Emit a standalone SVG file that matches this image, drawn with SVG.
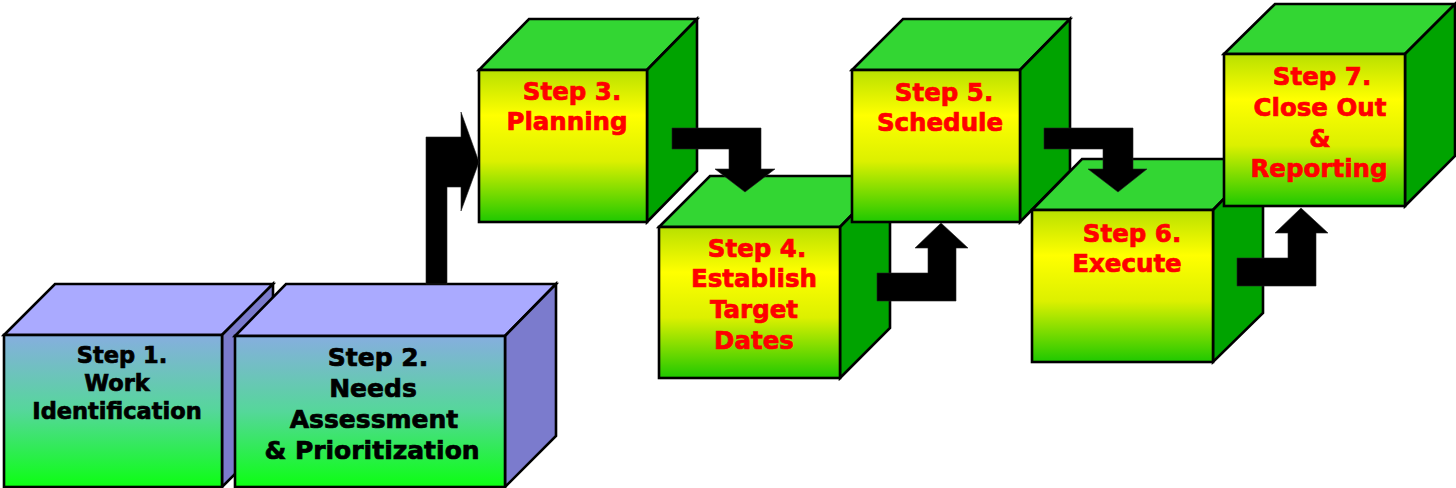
<svg xmlns="http://www.w3.org/2000/svg" width="1456" height="488" viewBox="0 0 1456 488">
  <defs>
    <linearGradient id="frontBlue" x1="0" y1="0" x2="0" y2="1">
      <stop offset="0" stop-color="#86aedf"/>
      <stop offset="0.5" stop-color="#55d79a"/>
      <stop offset="1" stop-color="#0cff12"/>
    </linearGradient>
    <linearGradient id="frontGreen" x1="0" y1="0" x2="0" y2="1">
      <stop offset="0" stop-color="#b8e000"/>
      <stop offset="0.3" stop-color="#ffff00"/>
      <stop offset="0.6" stop-color="#dcf000"/>
      <stop offset="1" stop-color="#1ec800"/>
    </linearGradient>
    <style>
      .edge { stroke: #000; stroke-width: 2.6; stroke-linejoin: miter; }
      .b-front { fill: url(#frontBlue); }
      .b-top { fill: #aaaaff; }
      .b-side { fill: #7b7bcd; }
      .g-front { fill: url(#frontGreen); }
      .g-top { fill: #33d633; }
      .g-side { fill: #00a300; }
      .lbl { font-family: "DejaVu Sans", Verdana, sans-serif; font-weight: bold; text-anchor: middle; stroke-width: 0.7; }
      .dark { fill: #000; stroke: #000; }
      .red { fill: #ff0000; stroke: #ff0000; }
      .arrow { fill: #000; stroke: #222; stroke-width: 0.6; }
    </style>
  </defs>

  <rect width="1456" height="488" fill="#fff"/>

  <!-- Step 1 -->
  <g id="step1">
    <polygon class="edge b-top" points="4,335 55,284 273,284 222,335"/>
    <polygon class="edge b-side" points="222,335 273,284 273,436 222,487"/>
    <rect class="edge b-front" x="4" y="335" width="218" height="152"/>
    <g class="lbl dark" font-size="22.5">
      <text x="122" y="363">Step 1.</text>
      <text x="117" y="391">Work</text>
      <text x="117" y="419">Identification</text>
    </g>
  </g>

  <!-- Step 2 -->
  <g id="step2">
    <polygon class="edge b-top" points="235,336 286,284 556,284 505,336"/>
    <polygon class="edge b-side" points="505,336 556,284 556,436 505,487"/>
    <rect class="edge b-front" x="235" y="336" width="270" height="151"/>
    <g class="lbl dark" font-size="25">
      <text x="378" y="366">Step 2.</text>
      <text x="373" y="397">Needs</text>
      <text x="374" y="428">Assessment</text>
      <text x="372" y="459">&amp; Prioritization</text>
    </g>
  </g>

  <!-- Step 3 -->
  <g id="step3">
    <polygon class="edge g-top" points="479,70 529,19 697,19 647,70"/>
    <polygon class="edge g-side" points="647,70 697,19 697,171 647,222"/>
    <rect class="edge g-front" x="479" y="70" width="168" height="152"/>
    <g class="lbl red" font-size="24.5">
      <text x="572" y="100">Step 3.</text>
      <text x="567" y="130">Planning</text>
    </g>
  </g>

  <!-- Step 4 -->
  <g id="step4">
    <polygon class="edge g-top" points="659,227 710,176 890,176 840,227"/>
    <polygon class="edge g-side" points="840,227 890,176 890,328 840,378"/>
    <rect class="edge g-front" x="659" y="227" width="181" height="151"/>
    <g class="lbl red" font-size="24.5">
      <text x="757" y="257">Step 4.</text>
      <text x="754" y="287">Establish</text>
      <text x="754" y="318">Target</text>
      <text x="754" y="349">Dates</text>
    </g>
  </g>

  <!-- Step 5 -->
  <g id="step5">
    <polygon class="edge g-top" points="852,70 903,19 1070,19 1020,70"/>
    <polygon class="edge g-side" points="1020,70 1070,19 1070,171 1020,222"/>
    <rect class="edge g-front" x="852" y="70" width="168" height="152"/>
    <g class="lbl red" font-size="24.5">
      <text x="944" y="101">Step 5.</text>
      <text x="940" y="131">Schedule</text>
    </g>
  </g>

  <!-- Step 6 -->
  <g id="step6">
    <polygon class="edge g-top" points="1032,210 1082,159 1263,159 1213,210"/>
    <polygon class="edge g-side" points="1213,210 1263,159 1263,313 1213,362"/>
    <rect class="edge g-front" x="1032" y="210" width="181" height="152"/>
    <g class="lbl red" font-size="24.5">
      <text x="1132" y="242">Step 6.</text>
      <text x="1127" y="272">Execute</text>
    </g>
  </g>

  <!-- Step 7 -->
  <g id="step7">
    <polygon class="edge g-top" points="1224,54 1275,4 1455,4 1405,54"/>
    <polygon class="edge g-side" points="1405,54 1455,4 1455,156 1405,206"/>
    <rect class="edge g-front" x="1224" y="54" width="181" height="152"/>
    <g class="lbl red" font-size="24.5">
      <text x="1322" y="85">Step 7.</text>
      <text x="1320" y="116">Close Out</text>
      <text x="1320" y="147">&amp;</text>
      <text x="1319" y="177">Reporting</text>
    </g>
  </g>

  <!-- Bent block arrows between the steps -->
  <g id="connectors">
    <polygon class="arrow" points="426,284 426,137 461,137 461,112 479,162 461,211 461,187 447,187 447,284"/>
    <polygon class="arrow" points="672,128 761,128 761,169 775,169 745,192 715,169 729,169 729,149 672,149"/>
    <polygon class="arrow" points="877,301 877,273 928,273 928,248 915,248 941,223 968,248 956,248 956,301"/>
    <polygon class="arrow" points="1044,128 1133,128 1133,169 1147,169 1118,192 1088,169 1103,169 1103,149 1044,149"/>
    <polygon class="arrow" points="1237,286 1237,258 1288,258 1288,233 1275,233 1301,208 1328,233 1316,233 1316,286"/>
  </g>
</svg>
